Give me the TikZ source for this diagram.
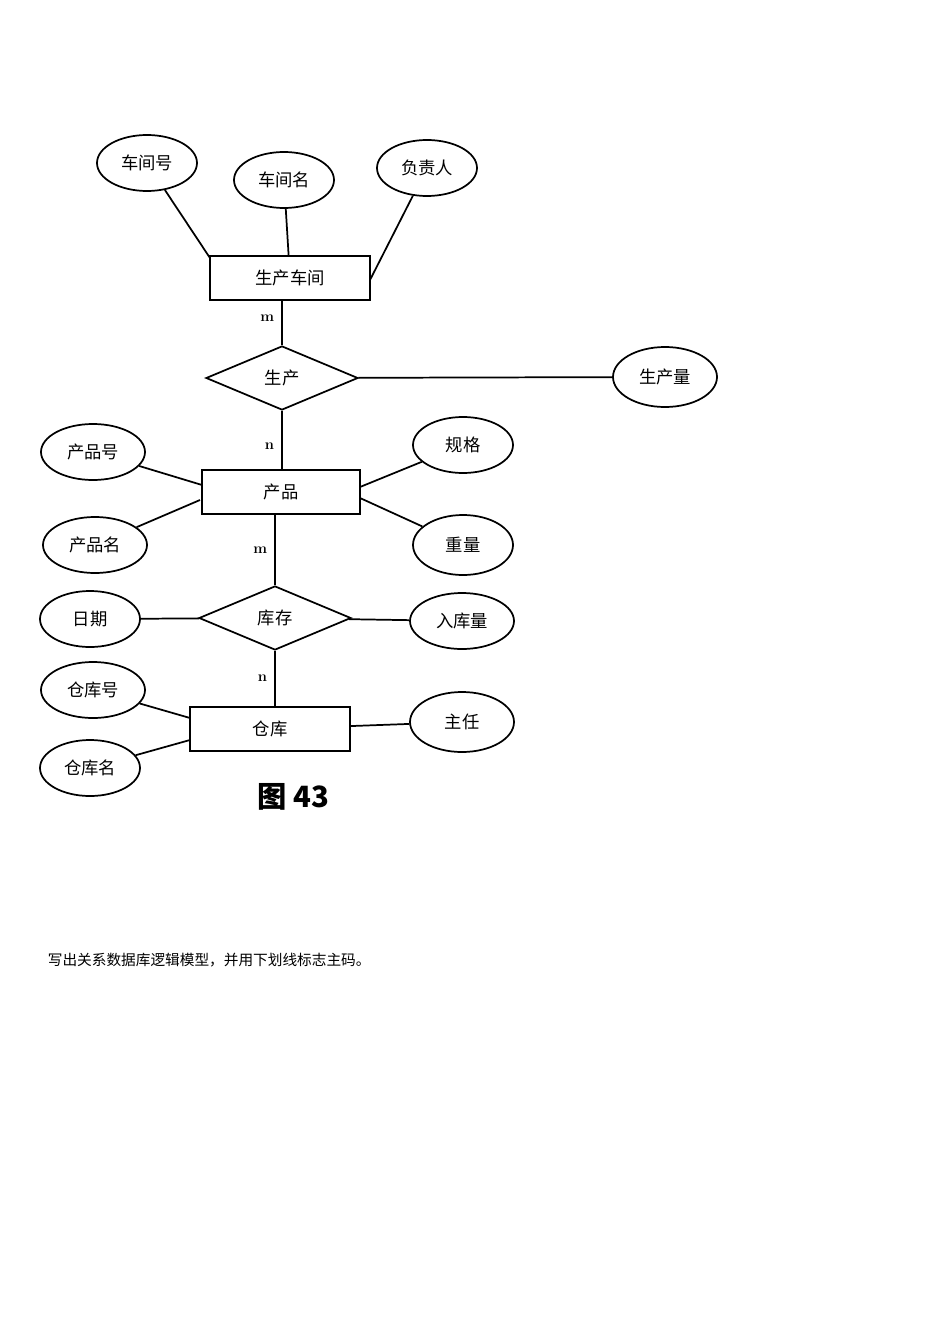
\documentclass[tikz,border=0pt]{standalone}
\usepackage{fontspec}
\newfontfamily\cjk{Noto Sans CJK SC}
\usetikzlibrary{shapes.geometric}
\begin{document}
\begin{tikzpicture}[x=0.75pt,y=-0.75pt,line width=1.3pt,
 attr/.style={draw,ellipse,minimum width=100*0.75pt,minimum height=56*0.75pt,inner sep=0pt,font=\cjk\fontsize{13}{15}\selectfont},
 ent/.style={draw,rectangle,minimum width=160*0.75pt,minimum height=44*0.75pt,font=\cjk\fontsize{13}{15}\selectfont},
 rel/.style={draw,diamond,aspect=2.4,minimum width=152*0.75pt,minimum height=64*0.75pt,inner sep=0pt,font=\cjk\fontsize{13}{15}\selectfont},
 card/.style={font=\fontsize{11}{13}\selectfont\bfseries}]
\useasboundingbox (0,0) rectangle (950,1344);
\node[attr] (a1) at (147,163) {车间号};
\node[attr] (a2) at (284,180) {车间名};
\node[attr] (a3) at (427,168) {负责人};
\node[ent] (e1) at (290,278) {生产车间};
\node[rel] (r1) at (282,378) {生产};
\node[attr,minimum width=104*0.75pt,minimum height=60*0.75pt] (a4) at (665,377) {生产量};
\node[ent,minimum width=158*0.75pt] (e2) at (281,492) {产品};
\node[attr,minimum width=104*0.75pt] (a5) at (93,452) {产品号};
\node[attr,minimum width=104*0.75pt] (a6) at (95,545) {产品名};
\node[attr] (a7) at (463,445) {规格};
\node[attr,minimum height=60*0.75pt] (a8) at (463,545) {重量};
\node[rel] (r2) at (275,618) {库存};
\node[attr] (a9) at (90,619) {日期};
\node[attr,minimum width=104*0.75pt] (a10) at (462,621) {入库量};
\node[ent] (e3) at (270,729) {仓库};
\node[attr,minimum width=104*0.75pt] (a11) at (93,690) {仓库号};
\node[attr] (a12) at (90,768) {仓库名};
\node[attr,minimum width=104*0.75pt,minimum height=60*0.75pt] (a13) at (462,722) {主任};
\coordinate (c1) at (210,258);
\coordinate (c2) at (370,280);
\draw (a1) -- (c1);
\draw (a2) -- (e1);
\draw (a3) -- (c2);
\draw (e1.south -| r1.north) -- node[card,left=2pt,pos=0.4]{m} (r1.north);
\draw (r1) -- (a4);
\draw (r1.south) -- node[card,left=2pt,pos=0.6]{n} (r1.south |- e2.north);
\coordinate (c3) at (202,485);\coordinate (c4) at (200,500);
\coordinate (c5) at (360,487);\coordinate (c6) at (360,498);
\draw (a5) -- (c3); \draw (a6) -- (c4);
\draw (a7) -- (c5); \draw (a8) -- (c6);
\draw (e2.south -| r2.north) -- node[card,left=2pt,pos=0.5]{m} (r2.north);
\draw (r2) -- (a9); \draw (r2) -- (a10);
\draw (r2.south) -- node[card,left=2pt,pos=0.5]{n} (r2.south |- e3.north);
\coordinate (c7) at (190,718);\coordinate (c8) at (190,740);
\draw (a11) -- (c7); \draw (a12) -- (c8);
\draw (e3) -- (a13);
\node[font=\cjk\bfseries\fontsize{22}{26}\selectfont] (fig) at (293,797) {图 43};
\node[anchor=west,font=\cjk\fontsize{11}{13}\selectfont,inner sep=0pt] (txt) at (47,960) {写出关系数据库逻辑模型，并用下划线标志主码。};
\end{tikzpicture}
\end{document}
